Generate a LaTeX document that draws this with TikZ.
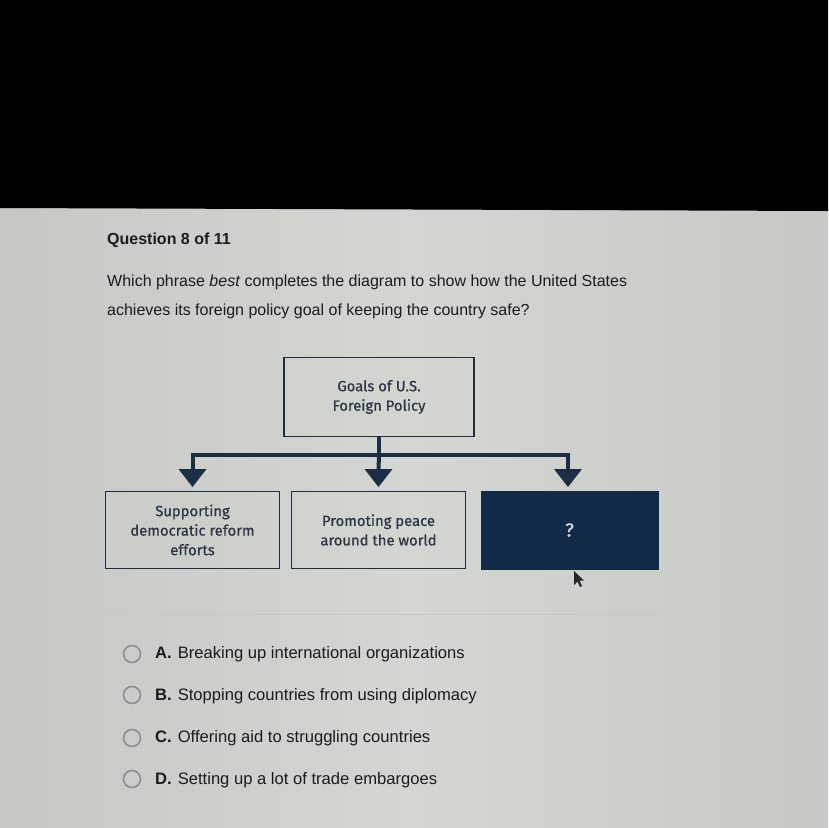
\documentclass[tikz,border=0pt]{standalone}
\usepackage{fontspec}
\setmainfont{Liberation Sans}
\newfontfamily\boxfont[FakeBold=0.6]{Fira Sans}
\usetikzlibrary{arrows.meta}
\definecolor{scr}{HTML}{D3D6D1}
\definecolor{scrdark}{HTML}{C6C9C3}
\definecolor{navy}{HTML}{102A47}
\definecolor{lineblue}{HTML}{1B2E44}
\definecolor{boxtxt}{HTML}{2A3643}
\definecolor{qtxt}{HTML}{1C1C1C}
\tikzset{
  goalbox/.style={draw=lineblue, line width=1.8pt, minimum width=190pt, minimum height=79pt, inner sep=0pt, align=center, font=\boxfont\fontsize{14.8}{19.5}\selectfont, text=boxtxt},
  subbox/.style={draw=lineblue, line width=1.8pt, minimum width=174pt, minimum height=77pt, inner sep=0pt, align=center, font=\boxfont\fontsize{14.8}{19.5}\selectfont, text=boxtxt},
  hidbox/.style={fill=navy, draw=navy, minimum width=177pt, minimum height=78pt, inner sep=0pt, font=\boxfont\fontsize{19}{20}\selectfont, text=white!80!navy},
  conn/.style={draw=lineblue, line width=4pt},
  tip/.style={fill=lineblue},
  radio/.style={draw=black!45, line width=1.5pt, circle, minimum size=17pt, inner sep=0pt},
  opt/.style={anchor=west, font=\fontsize{16.6}{18}\selectfont, text=qtxt, inner sep=0pt},
  qtext/.style={anchor=west, font=\fontsize{16}{18}\selectfont, text=qtxt, inner sep=0pt}
}
\begin{document}
\begin{tikzpicture}[x=1pt,y=-1pt]
\useasboundingbox (0,0) rectangle (828,828);
% screen background
\shade[left color=scrdark, right color=scrdark, middle color=scr] (0,208) rectangle (828,828);
\fill[black] (0,0) -- (828,0) -- (828,211) -- (0,208) -- cycle;
% heading
\node[qtext, font=\bfseries\fontsize{16}{18}\selectfont] (head) at (107,240) {Question 8 of 11};
\node[qtext] (q1) at (107,282) {Which phrase \textit{best} completes the diagram to show how the United States};
\node[qtext] (q2) at (107,311) {achieves its foreign policy goal of keeping the country safe?};
% diagram
\node[goalbox] (goal) at (379,397) {Goals of U.S.\\Foreign Policy};
\node[subbox] (b1) at (192.5,530) {Supporting\\democratic reform\\efforts};
\node[subbox] (b2) at (378.5,530) {Promoting peace\\around the world};
\node[hidbox] (b3) at (569.5,530) {?};
\coordinate (hub) at (goal.south |- 0,455);
\coordinate (L) at (b1.north |- hub);
\coordinate (R) at (568,455);
\coordinate (t1) at (b1.north |- 0,470);
\coordinate (t2) at (b2.north |- 0,470);
\coordinate (t3) at (R |- 0,470);
\draw[conn] (goal.south) -- (hub);
\draw[conn, line cap=rect] (L) -- (R);
\draw[conn] (L) -- (t1);
\draw[conn] (hub) -- (t2);
\draw[conn] (R) -- (t3);
\foreach \c in {t1,t2,t3}{
  \fill[tip] ([shift={(-14,-1)}]\c) -- ([shift={(14,-1)}]\c) -- ([shift={(0,17)}]\c) -- cycle;
}
% cursor
\fill[black!85] (574,571) -- (574,585) -- (577.5,581.5) -- (580,587) -- (582,586) -- (579.5,580.5) -- (584,580.5) -- cycle;
% separator
\draw[black!22, line width=0.6pt] (100,614) -- (662,614);
% options
\foreach \y/\n in {654/ra,695/rb,738/rc,779/rd}{
  \node[radio] (\n) at (132,\y) {};
}
\node[opt] (oa) at (155,654) {\textbf{A.}\hspace{6pt}Breaking up international organizations};
\node[opt] (ob) at (155,696) {\textbf{B.}\hspace{6pt}Stopping countries from using diplomacy};
\node[opt] (oc) at (155,738) {\textbf{C.}\hspace{6pt}Offering aid to struggling countries};
\node[opt] (od) at (155,780) {\textbf{D.}\hspace{6pt}Setting up a lot of trade embargoes};
\end{tikzpicture}
\end{document}
